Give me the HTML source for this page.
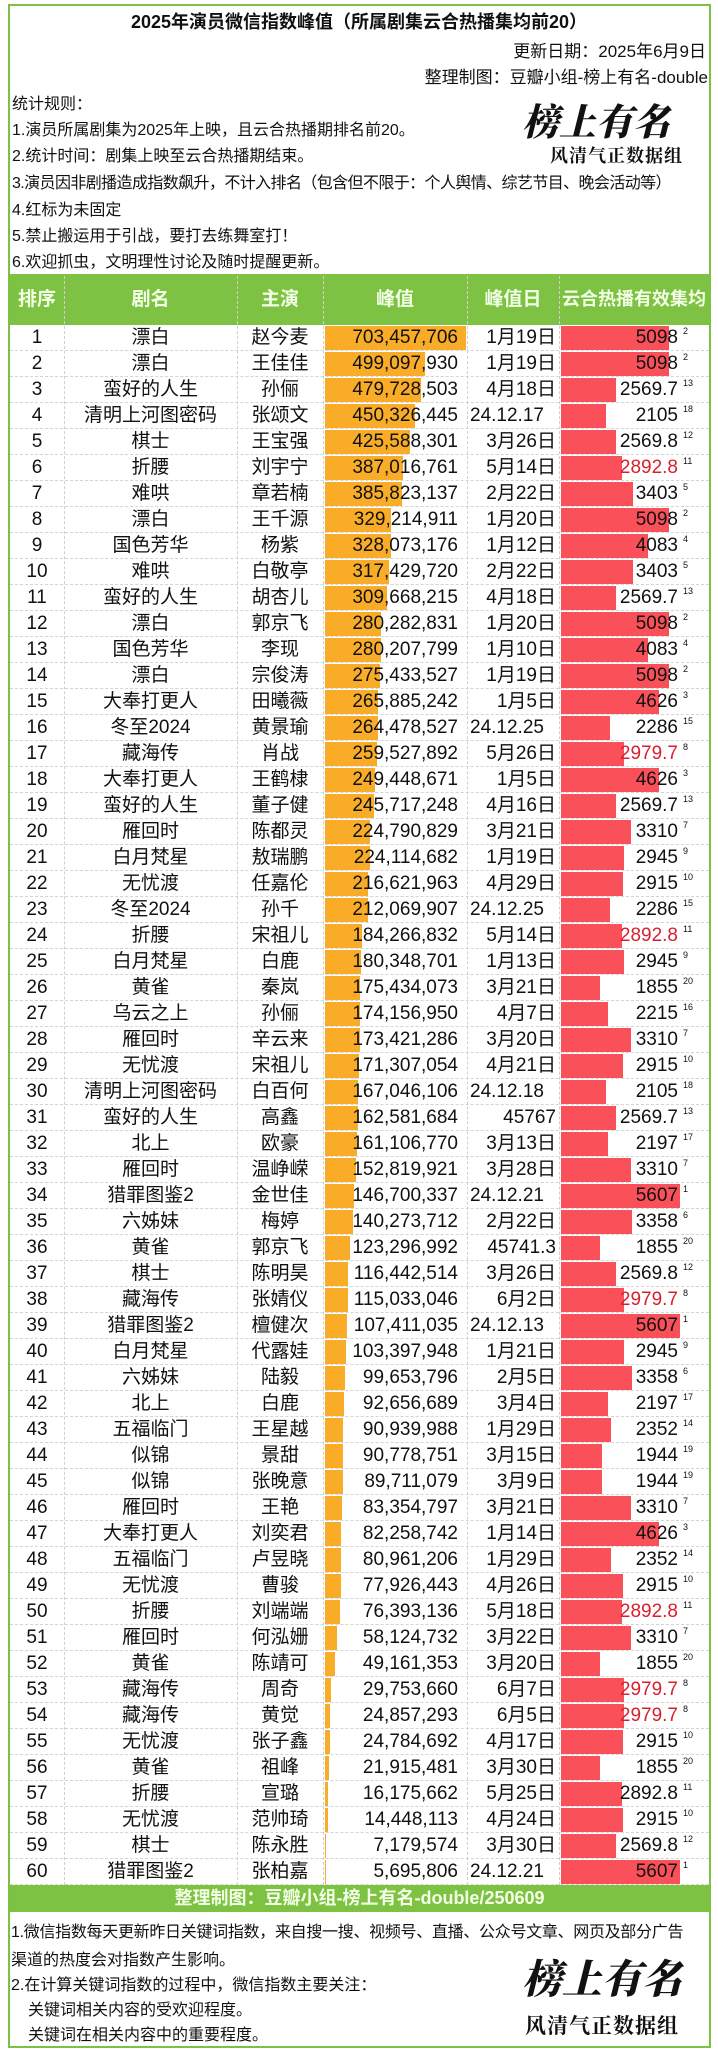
<!DOCTYPE html>
<html><head><meta charset="utf-8">
<style>
html,body{margin:0;padding:0;background:#fff;}
body{width:718px;height:2052px;position:relative;overflow:hidden;font-family:"Liberation Sans","Noto Sans CJK SC",sans-serif;color:#111;}
.abs{position:absolute;white-space:nowrap;}
.frame{position:absolute;left:8px;top:4px;width:699px;height:2040px;border:2px solid #7cc144;}
.hdr{position:absolute;top:274px;height:51px;left:10px;width:699px;background:#7dc242;}
.hcell{position:absolute;top:274px;height:51px;line-height:51px;text-align:center;color:#f4ffe8;font-weight:bold;font-size:19px;}
.vline{position:absolute;border-left:1px dashed #d0d0d0;}
.hline{position:absolute;left:10px;width:699px;border-top:1px dashed #d4d4d4;}
.cell{position:absolute;height:26px;line-height:26px;font-size:19px;}
.logo1{font-family:"Noto Serif CJK SC",serif;font-weight:900;font-style:italic;}
</style></head><body>
<div class="frame"></div>
<div class="abs" style="left:0;width:718px;text-align:center;top:8px;font-size:18px;font-weight:bold;">2025年演员微信指数峰值（所属剧集云合热播集均前20）</div>
<div class="abs" style="right:12px;top:37px;font-size:17px;">更新日期：2025年6月9日</div>
<div class="abs" style="right:10px;top:63px;font-size:17px;">整理制图：豆瓣小组-榜上有名-double</div>
<div class="abs" style="left:12px;top:90px;font-size:16px;">统计规则：</div>
<div class="abs" style="left:12px;top:116px;font-size:16px;">1.演员所属剧集为2025年上映，且云合热播期排名前20。</div>
<div class="abs" style="left:12px;top:142px;font-size:16px;">2.统计时间：剧集上映至云合热播期结束。</div>
<div class="abs" style="left:12px;top:169px;font-size:16px;letter-spacing:-0.6px;">3.演员因非剧播造成指数飙升，不计入排名（包含但不限于：个人舆情、综艺节目、晚会活动等）</div>
<div class="abs" style="left:12px;top:196px;font-size:16px;">4.红标为未固定</div>
<div class="abs" style="left:12px;top:222px;font-size:16px;">5.禁止搬运用于引战，要打去练舞室打！</div>
<div class="abs" style="left:12px;top:248px;font-size:16px;">6.欢迎抓虫，文明理性讨论及随时提醒更新。</div>
<div class="abs logo1" style="left:522px;top:92px;font-size:37px;">榜上有名</div>
<div class="abs" style="left:550px;top:142px;font-size:18px;font-weight:bold;font-family:'Noto Serif CJK SC',serif;letter-spacing:1px;">风清气正数据组</div>

<div class="hdr"></div>
<div class="hcell" style="left:10px;width:54px;">排序</div>
<div class="hcell" style="left:64px;width:173px;">剧名</div>
<div class="hcell" style="left:237px;width:86px;">主演</div>
<div class="hcell" style="left:323px;width:144px;">峰值</div>
<div class="hcell" style="left:467px;width:92px;">峰值日</div>
<div class="hcell" style="left:559px;width:150px;font-size:18px;">云合热播有效集均</div>
<div id="rows"></div>

<div class="abs" style="left:10px;top:1885px;width:699px;height:27px;line-height:27px;background:#7dc242;color:#f4ffe8;text-align:center;font-weight:bold;font-size:18px;">整理制图：豆瓣小组-榜上有名-double/250609</div>
<div class="abs" style="left:11px;top:1918px;font-size:16px;letter-spacing:-0.3px;">1.微信指数每天更新昨日关键词指数，来自搜一搜、视频号、直播、公众号文章、网页及部分广告</div>
<div class="abs" style="left:11px;top:1946px;font-size:16px;">渠道的热度会对指数产生影响。</div>
<div class="abs" style="left:11px;top:1971px;font-size:16px;">2.在计算关键词指数的过程中，微信指数主要关注：</div>
<div class="abs" style="left:28px;top:1996px;font-size:16px;">关键词相关内容的受欢迎程度。</div>
<div class="abs" style="left:28px;top:2021px;font-size:16px;">关键词在相关内容中的重要程度。</div>
<div class="abs logo1" style="left:522px;top:1948px;font-size:40px;">榜上有名</div>
<div class="abs" style="left:525px;top:2010px;font-size:21px;font-weight:bold;font-family:'Noto Serif CJK SC',serif;letter-spacing:1px;">风清气正数据组</div>

<script>
const dramas=["漂白","漂白","蛮好的人生","清明上河图密码","棋士","折腰","难哄","漂白","国色芳华","难哄","蛮好的人生","漂白","国色芳华","漂白","大奉打更人","冬至2024","藏海传","大奉打更人","蛮好的人生","雁回时","白月梵星","无忧渡","冬至2024","折腰","白月梵星","黄雀","乌云之上","雁回时","无忧渡","清明上河图密码","蛮好的人生","北上","雁回时","猎罪图鉴2","六姊妹","黄雀","棋士","藏海传","猎罪图鉴2","白月梵星","六姊妹","北上","五福临门","似锦","似锦","雁回时","大奉打更人","五福临门","无忧渡","折腰","雁回时","黄雀","藏海传","藏海传","无忧渡","黄雀","折腰","无忧渡","棋士","猎罪图鉴2"];
const actors=["赵今麦","王佳佳","孙俪","张颂文","王宝强","刘宇宁","章若楠","王千源","杨紫","白敬亭","胡杏儿","郭京飞","李现","宗俊涛","田曦薇","黄景瑜","肖战","王鹤棣","董子健","陈都灵","敖瑞鹏","任嘉伦","孙千","宋祖儿","白鹿","秦岚","孙俪","辛云来","宋祖儿","白百何","高鑫","欧豪","温峥嵘","金世佳","梅婷","郭京飞","陈明昊","张婧仪","檀健次","代露娃","陆毅","白鹿","王星越","景甜","张晚意","王艳","刘奕君","卢昱晓","曹骏","刘端端","何泓姗","陈靖可","周奇","黄觉","张子鑫","祖峰","宣璐","范帅琦","陈永胜","张柏嘉"];
const peaks=[703457706,499097930,479728503,450326445,425588301,387016761,385823137,329214911,328073176,317429720,309668215,280282831,280207799,275433527,265885242,264478527,259527892,249448671,245717248,224790829,224114682,216621963,212069907,184266832,180348701,175434073,174156950,173421286,171307054,167046106,162581684,161106770,152819921,146700337,140273712,123296992,116442514,115033046,107411035,103397948,99653796,92656689,90939988,90778751,89711079,83354797,82258742,80961206,77926443,76393136,58124732,49161353,29753660,24857293,24784692,21915481,16175662,14448113,7179574,5695806];
const dates=["1月19日","1月19日","4月18日","24.12.17","3月26日","5月14日","2月22日","1月20日","1月12日","2月22日","4月18日","1月20日","1月10日","1月19日","1月5日","24.12.25","5月26日","1月5日","4月16日","3月21日","1月19日","4月29日","24.12.25","5月14日","1月13日","3月21日","4月7日","3月20日","4月21日","24.12.18","45767","3月13日","3月28日","24.12.21","2月22日","45741.3","3月26日","6月2日","24.12.13","1月21日","2月5日","3月4日","1月29日","3月15日","3月9日","3月21日","1月14日","1月29日","4月26日","5月18日","3月22日","3月20日","6月7日","6月5日","4月17日","3月30日","5月25日","4月24日","3月30日","24.12.21"];
const yunhe=[5098,5098,2569.7,2105,2569.8,2892.8,3403,5098,4083,3403,2569.7,5098,4083,5098,4626,2286,2979.7,4626,2569.7,3310,2945,2915,2286,2892.8,2945,1855,2215,3310,2915,2105,2569.7,2197,3310,5607,3358,1855,2569.8,2979.7,5607,2945,3358,2197,2352,1944,1944,3310,4626,2352,2915,2892.8,3310,1855,2979.7,2979.7,2915,1855,2892.8,2915,2569.8,5607];
const yunheRank=[2,2,13,18,12,11,5,2,4,5,13,2,4,2,3,15,8,3,13,7,9,10,15,11,9,20,16,7,10,18,13,17,7,1,6,20,12,8,1,9,6,17,14,19,19,7,3,14,10,11,7,20,8,8,10,20,11,10,12,1];
const unfixed=[6,17,24,38,50,53,54];

const TOP=325,RH=26;
const peakMax=703457706, yunheMax=5607;
function xPeak(v){return v/peakMax*141;}
function xYun(v){return v/yunheMax*119;}
function rowY(i){return TOP+i*RH;}
const root=document.getElementById('rows');
function mk(cls,style,text){const d=document.createElement('div');d.className=cls;d.style.cssText=style;if(text!==undefined)d.textContent=text;root.appendChild(d);return d;}
for(let i=0;i<dramas.length;i++){
  const y=rowY(i);
  let e;
  e=mk('abs',`left:325px;top:${y+1}px;height:24px;width:${xPeak(peaks[i])}px;background:#f9ac28;`);
  
  
  e=mk('abs',`left:561px;top:${y+1}px;height:24px;width:${xYun(yunhe[i])}px;background:#f9505a;`);
  
  
  e=mk('cell',`left:10px;width:54px;top:${y}px;text-align:center;`,String(i+1));
  
  
  e=mk('cell',`left:64px;width:173px;top:${y}px;text-align:center;`,dramas[i]);
  
  
  e=mk('cell',`left:237px;width:86px;top:${y}px;text-align:center;`,actors[i]);
  
  
  e=mk('cell',`left:323px;width:135px;top:${y}px;text-align:right;`,peaks[i].toLocaleString('en-US'));
  
  
  const d=dates[i];
  if(d.startsWith('24.')){e=mk('cell',`left:470px;top:${y}px;`,d);}
  else{e=mk('cell',`left:467px;width:89px;top:${y}px;text-align:right;`,d);}
  
  
  const red=unfixed.includes(i+1);
  e=mk('cell',`left:559px;width:119px;top:${y}px;text-align:right;color:${red?'#d9202e':'#111'};`,String(yunhe[i]));
  
  
  e=mk('abs',`left:683px;top:${y+1}px;font-size:9px;`,String(yunheRank[i]));
  
  
  e=mk('hline',`top:${y+RH-1}px;`);
  
  
}
[64,237,323,467,559].forEach(x=>{
  const e=mk('vline',`left:${x}px;top:276px;height:${RH*60+49}px;`);
  
  
});
</script>
</body></html>
